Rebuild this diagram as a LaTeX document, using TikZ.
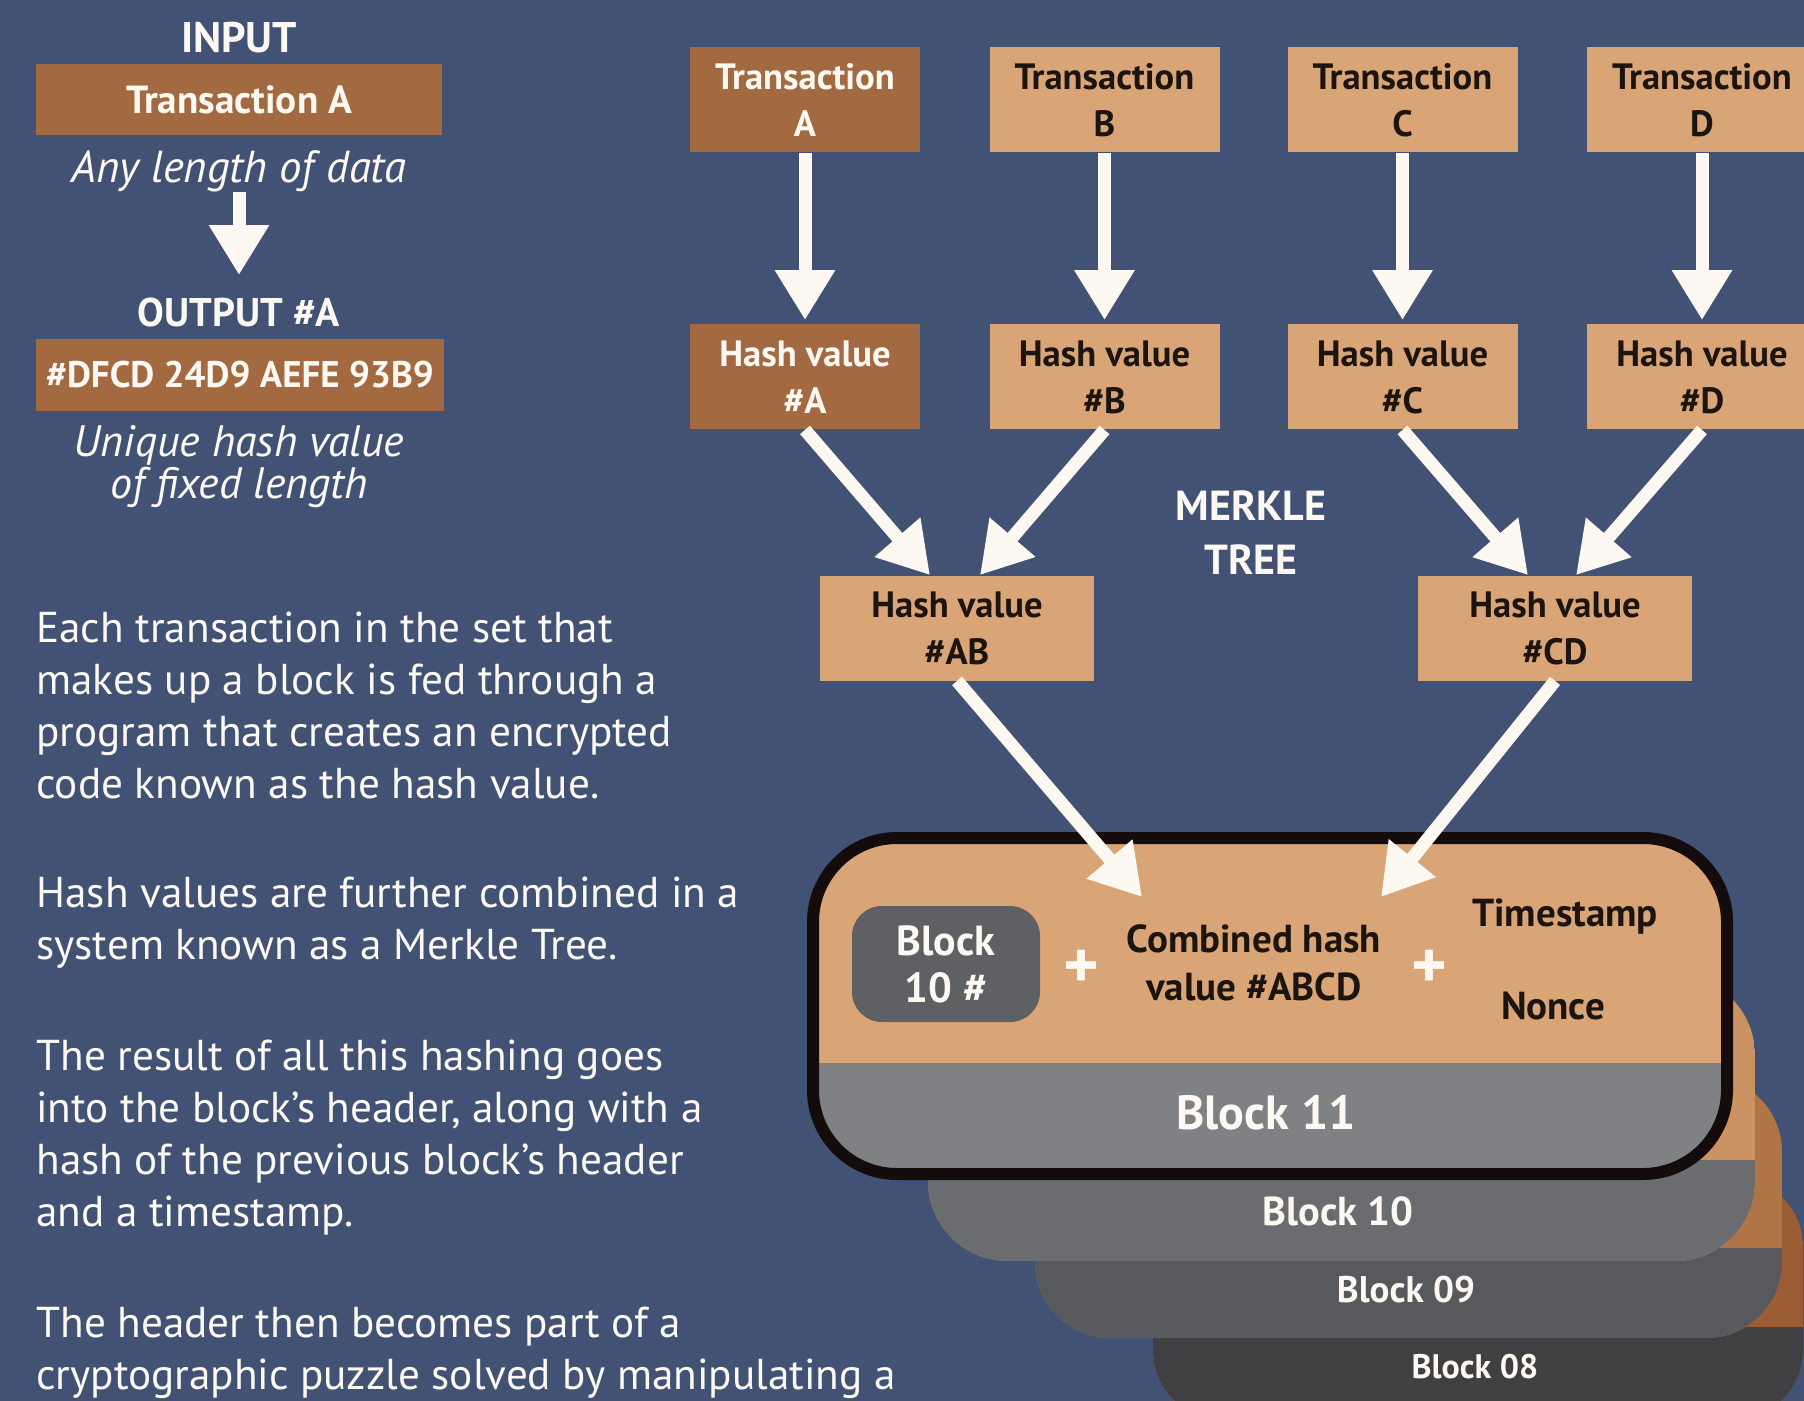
\documentclass[tikz,border=0pt]{standalone}
\usepackage{fontspec}
\setmainfont{PT Sans}
\usepackage{tikz}
\usetikzlibrary{arrows.meta,positioning}

\definecolor{bgblue}{RGB}{65,82,116}
\definecolor{tanlight}{RGB}{217,165,118}
\definecolor{tandark}{RGB}{163,106,66}
\definecolor{inkdark}{RGB}{28,20,16}
\definecolor{cream}{RGB}{253,249,242}
\definecolor{rimblack}{RGB}{20,12,12}
\definecolor{bandA}{RGB}{128,129,133}
\definecolor{bandB}{RGB}{107,108,111}
\definecolor{bandC}{RGB}{88,89,92}
\definecolor{bandD}{RGB}{64,64,67}
\definecolor{bodyB}{RGB}{203,146,98}
\definecolor{bodyC}{RGB}{176,117,70}
\definecolor{bodyD}{RGB}{156,92,52}
\definecolor{badgegray}{RGB}{95,96,99}

\begin{document}
\begin{tikzpicture}[x=0.5pt,y=-0.5pt,
		box/.style={minimum width=115pt,minimum height=52.5pt,inner sep=0pt,align=center,font=\bfseries\fontsize{18.3}{23.5}\selectfont},
		lite/.style={box,fill=tanlight,text=inkdark},
		dark/.style={box,fill=tandark,text=cream},
		lbl/.style={inner sep=0pt,align=center,text=cream},
		flow/.style={draw=cream,line width=6.5pt,-{Triangle[width=28.5pt,length=25pt]}},
		para/.style={anchor=base west,inner sep=0pt,align=left,text=cream,font=\fontsize{21.6}{26}\selectfont},
		rim/.style={line width=6pt,draw=rimblack,rounded corners=42pt},
	]
	\useasboundingbox (0,0) rectangle (1804,1401);
	\clip (0,0) rectangle (1804,1401);
	\fill[bgblue] (0,0) rectangle (1804,1401);

	% hash function
	\node (inlbl) at (239,38) [lbl,font=\bfseries\fontsize{21.4}{26}\selectfont] {INPUT};
	\node (intx) at (239,99.5) [fill=tandark,text=cream,minimum width=203pt,minimum height=35.5pt,inner sep=0pt,font=\bfseries\fontsize{19.6}{23}\selectfont] {Transaction A};
	\node (anyl) at (239,171) [lbl,font=\itshape\fontsize{22.4}{24}\selectfont] {Any length of data};
	\node (outlbl) at (239,313) [lbl,font=\bfseries\fontsize{20}{24}\selectfont] {OUTPUT \#A};
	\node (outhash) at (240,375) [fill=tandark,text=cream,minimum width=204pt,minimum height=36pt,inner sep=0pt,font=\bfseries\fontsize{18.5}{22}\selectfont] {\#DFCD 24D9 AEFE 93B9};
	\node (uniq) at (239,467) [lbl,font=\itshape\fontsize{22}{20}\selectfont] {Unique hash value\\of fixed length};
	\draw[flow,shorten <=0pt,shorten >=11.5pt] (anyl) -- (outlbl);

	\node (p1) at (36,798) [para] {Each transaction in the set that\\makes up a block is fed through a\\program that creates an encrypted\\code known as the hash value.};
	\node (p2) at (36,959) [para] {Hash values are further combined in a\\system known as a Merkle Tree.};
	\node (p3) at (36,1226) [para] {The result of all this hashing goes\\into the block's header, along with a\\hash of the previous block's header\\and a timestamp.};
	\node (p4) at (36,1389) [para] {The header then becomes part of a\\cryptographic puzzle solved by manipulating a};

	% merkle tree
	\node (txa) at (805,100) [dark] {Transaction\\A};
	\node (txb) at (1104.5,100) [lite] {Transaction\\B};
	\node (txc) at (1402.5,100) [lite] {Transaction\\C};
	\node (txd) at (1702,100) [lite] {Transaction\\D};
	\node (ha) at (805,377) [dark] {Hash value\\\#A};
	\node (hb) at (1104.5,377) [lite] {Hash value\\\#B};
	\node (hc) at (1402.5,377) [lite] {Hash value\\\#C};
	\node (hd) at (1702,377) [lite] {Hash value\\\#D};
	\node (hab) at (957,628) [lite,minimum width=137pt] {Hash value\\\#AB};
	\node (hcd) at (1555,628) [lite,minimum width=137pt] {Hash value\\\#CD};
	\node (mtree) at (1251,533) [lbl,font=\bfseries\fontsize{21}{27}\selectfont] {MERKLE\\TREE};

	\foreach \t/\h in {txa/ha,txb/hb,txc/hc,txd/hd}
		\draw[flow,shorten >=2pt] (\t) -- (\h);
	\draw[flow] (ha.south) -- ([xshift=-13.5pt]hab.north);
	\draw[flow] (hb.south) -- ([xshift=11.5pt]hab.north);
	\draw[flow] (hc.south) -- ([xshift=-13.5pt]hcd.north);
	\draw[flow] (hd.south) -- ([xshift=10.5pt]hcd.north);

	% chain of blocks, back to front
	\begin{scope}
		\clip[rounded corners=35pt] (1153,1177) rectangle (1803,1420);
		\fill[bodyD] (1153,1177) rectangle (1803,1420);
		\fill[bandD] (1153,1327) rectangle (1803,1420);
	\end{scope}
	\begin{scope}
		\clip[rounded corners=38pt] (1035,1076) rectangle (1782,1338);
		\fill[bodyC] (1035,1076) rectangle (1782,1338);
		\fill[bandC] (1035,1248) rectangle (1782,1338);
	\end{scope}
	\begin{scope}
		\clip[rounded corners=40pt] (928,975) rectangle (1755,1261);
		\fill[bodyB] (928,975) rectangle (1755,1261);
		\fill[bandB] (928,1160) rectangle (1755,1261);
	\end{scope}
	\node (b08) at (1475,1367) [lbl,font=\bfseries\fontsize{17}{20}\selectfont] {Block 08};
	\node (b09) at (1406,1290) [lbl,font=\bfseries\fontsize{18.5}{22}\selectfont] {Block 09};
	\node (b10) at (1338,1211) [lbl,font=\bfseries\fontsize{20.2}{24}\selectfont] {Block 10};

	\begin{scope}
		\clip[rounded corners=42pt] (813,838) rectangle (1727,1174);
		\fill[tanlight] (813,838) rectangle (1727,1174);
		\fill[bandA] (813,1063) rectangle (1727,1174);
	\end{scope}
	\draw[rim] (813,838) rectangle (1727,1174);
	\node (b11) at (1266,1113) [lbl,font=\bfseries\fontsize{24}{28}\selectfont] {Block 11};

	\node (prev) at (946,964) [fill=badgegray,text=cream,rounded corners=15pt,minimum width=94pt,minimum height=58pt,inner sep=0pt,align=center,font=\bfseries\fontsize{21}{23.5}\selectfont] {Block\\10 \#};
	\node (plus1) at (1081,969) [lbl,font=\bfseries\fontsize{34}{34}\selectfont] {+};
	\node (comb) at (1254,963) [lbl,text=inkdark,font=\bfseries\fontsize{19.5}{24}\selectfont] {Combined hash\\value \#ABCD};
	\node (plus2) at (1429,969) [lbl,font=\bfseries\fontsize{34}{34}\selectfont] {+};
	\node (tstamp) at (1565,917) [lbl,text=inkdark,font=\bfseries\fontsize{19.5}{24}\selectfont] {Timestamp};
	\node (nonce) at (1553,1006) [lbl,text=inkdark,font=\bfseries\fontsize{19.5}{24}\selectfont] {Nonce};

	\coordinate (inab) at (1142,897);
	\coordinate (incd) at (1381,897);
	\draw[flow] (hab.south) -- (inab);
	\draw[flow] (hcd.south) -- (incd);
\end{tikzpicture}
\end{document}
